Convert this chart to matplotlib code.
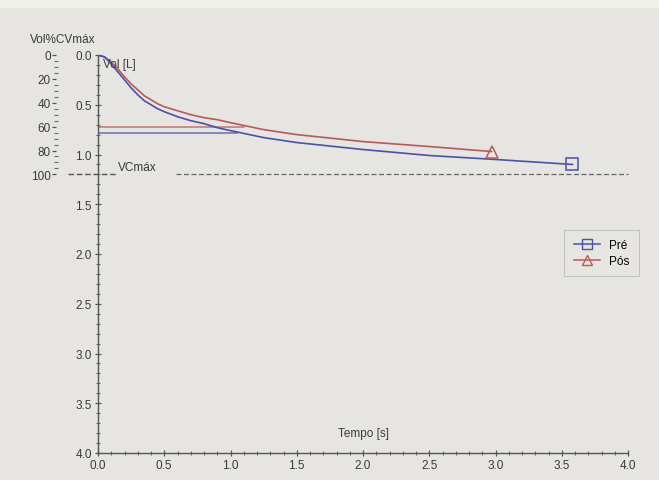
import matplotlib

matplotlib.use("Agg")
import matplotlib.pyplot as plt
from matplotlib.patches import Rectangle
from matplotlib.ticker import FixedLocator, MultipleLocator

plt.rcParams["font.family"] = ["Liberation Sans", "DejaVu Sans"]

# volume-time curves (t in s, volume in L)
pre_t = [0, 0.05, 0.1, 0.15, 0.2, 0.25, 0.3, 0.35, 0.4, 0.45, 0.5, 0.6, 0.7, 0.8, 0.9, 1.0,
         1.25, 1.5, 2.0, 2.5, 3.0, 3.58]
pre_vol = [0, 0.02, 0.09, 0.17, 0.25, 0.33, 0.40, 0.46, 0.50, 0.54, 0.57, 0.62, 0.66, 0.69,
           0.73, 0.76, 0.83, 0.88, 0.95, 1.01, 1.05, 1.10]
pos_t = [0, 0.05, 0.1, 0.15, 0.2, 0.25, 0.3, 0.35, 0.4, 0.45, 0.5, 0.6, 0.7, 0.8, 0.9, 1.0,
         1.25, 1.5, 2.0, 2.5, 2.97]
pos_vol = [0, 0.02, 0.07, 0.14, 0.22, 0.29, 0.35, 0.41, 0.45, 0.49, 0.52, 0.56, 0.60, 0.63,
           0.65, 0.68, 0.75, 0.80, 0.87, 0.92, 0.97]

# horizontal reference lines (level, end time)
pre_ref = (0.78, 1.05)
pos_ref = (0.72, 1.10)

vc_max = 1.2  # litres = 100 %
x_ticks = [0.0, 0.5, 1.0, 1.5, 2.0, 2.5, 3.0, 3.5, 4.0]
y_ticks = [0.0, 0.5, 1.0, 1.5, 2.0, 2.5, 3.0, 3.5, 4.0]
pct_ticks = [0, 20, 40, 60, 80, 100]

BG = "#e6e5e1"
BLUE = "#4c50a8"
RED = "#b65a5c"
INK = "#3a3a3a"

fig = plt.figure(figsize=(6.59, 4.81), dpi=100, facecolor=BG)
fig.patches.append(Rectangle((0, 1 - 9 / 481), 1, 9 / 481, transform=fig.transFigure,
                             facecolor="#eef2e8", edgecolor="none", zorder=0))

ax = fig.add_axes([98 / 659, 1 - 454 / 481, 530 / 659, 398 / 481])
ax.set_facecolor(BG)
ax.set_xlim(0, 4)
ax.set_ylim(4, 0)

for s in ["top", "right"]:
    ax.spines[s].set_visible(False)
for s in ["left", "bottom"]:
    ax.spines[s].set_color("#555555")
    ax.spines[s].set_linewidth(1.0)

ax.set_xticks(x_ticks)
ax.set_xticklabels([f"{v:.1f}" for v in x_ticks])
ax.set_yticks(y_ticks)
ax.set_yticklabels([f"{v:.1f}" for v in y_ticks])
ax.xaxis.set_minor_locator(MultipleLocator(0.1))
ax.yaxis.set_minor_locator(MultipleLocator(0.1))
ax.tick_params(which="major", direction="inout", length=5, width=0.9, colors="#555555",
               labelcolor=INK, labelsize=8.5, pad=2)
ax.tick_params(which="minor", direction="inout", length=2.5, width=0.8, colors="#666666")

# reference lines
ax.plot([0, pos_ref[1]], [pos_ref[0]] * 2, color=RED, lw=1.1, alpha=0.8)
ax.plot([0, pre_ref[1]], [pre_ref[0]] * 2, color=BLUE, lw=1.1, alpha=0.8)

# curves
ax.plot(pos_t, pos_vol, color=RED, lw=1.2, solid_joinstyle="round")
ax.plot(pre_t, pre_vol, color=BLUE, lw=1.2, solid_joinstyle="round")
ax.plot(pre_t[-1], pre_vol[-1], marker="s", ms=8, mfc="none", mec=BLUE, mew=1.1)
ax.plot(pos_t[-1], pos_vol[-1], marker="^", ms=8, mfc="none", mec=RED, mew=1.1)

# VCmax dashed line with label
trans = ax.get_yaxis_transform()
ax.plot([-30 / 530, 18 / 530], [vc_max, vc_max], transform=trans, color="#555555",
        lw=1.0, ls=(0, (4, 2)), clip_on=False)
ax.plot([78 / 530, 1.0], [vc_max, vc_max], transform=trans, color="#666666",
        lw=0.9, ls=(0, (4, 2)), clip_on=False)
ax.text(0.15, vc_max - 0.01, "VCmáx", fontsize=8.5, color=INK, ha="left", va="bottom")

# secondary %VCmax axis
ax2 = fig.add_axes(ax.get_position(), frameon=False)
ax2.set_xlim(0, 4)
ax2.xaxis.set_visible(False)
for s in ["top", "right", "bottom"]:
    ax2.spines[s].set_visible(False)
ax2.spines["left"].set_visible(True)
ax2.spines["left"].set_position(("outward", 30))
ax2.spines["left"].set_bounds(0, 100)
ax2.spines["left"].set_color("#555555")
ax2.yaxis.set_major_locator(FixedLocator(pct_ticks))
ax2.set_yticklabels([str(v) for v in pct_ticks])
ax2.yaxis.set_minor_locator(FixedLocator([v for v in range(5, 100, 5) if v % 20]))
ax2.tick_params(which="major", direction="out", length=3, width=0.9, colors="#555555",
                labelcolor=INK, labelsize=8.5, pad=1)
ax2.tick_params(which="minor", direction="inout", length=2.5, width=0.8, colors="#666666")
ax2.set_ylim(4 / vc_max * 100, 0)

# axis titles
fig.text(30 / 659, 1 - 40 / 481, "Vol%CVmáx", fontsize=8.5, color=INK, va="center")
ax.text(0.04, 0.09, "Vol [L]", fontsize=8.5, color=INK, va="center")
ax.text(2.0, 3.8, "Tempo [s]", fontsize=8.5, color=INK, ha="center", va="center")

# legend
h1, = ax.plot([], [], color=BLUE, marker="s", ms=7, mfc="none", lw=1.1)
h2, = ax.plot([], [], color=RED, marker="^", ms=7, mfc="none", lw=1.1)
leg = ax.legend([h1, h2], ["Pré", "Pós"], loc="upper right", bbox_to_anchor=(1.032, 0.575),
                fontsize=8.5, frameon=True, fancybox=False, handlelength=2.2,
                borderpad=0.8, labelspacing=0.3)
leg.get_frame().set_edgecolor("#bbbbbb")
leg.get_frame().set_facecolor(BG)
leg.get_frame().set_linewidth(0.8)

fig.savefig("out.png", dpi=100, facecolor=BG)
